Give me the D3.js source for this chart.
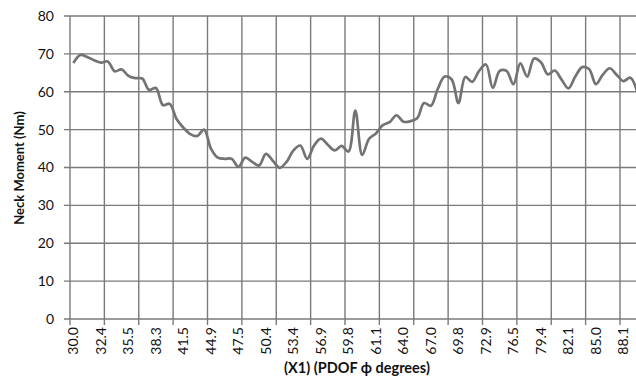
<!DOCTYPE html>
<html lang="en">
<head>
    <meta charset="UTF-8">
    <title>Neck Moment vs PDOF</title>
    <script src="https://cdn.jsdelivr.net/npm/d3@7"></script>
    <style>
        body { margin: 0; background: #fff; }
        svg { display: block; }
    </style>
</head>
<body>
    <svg id="chart" width="636" height="380"></svg>

    <script>
        // labels shown on the category axis (one every 4 categories)
        const tickLabels = ["30.0", "32.4", "35.5", "38.3", "41.5", "44.9", "47.5", "50.4", "53.4", "56.9",
            "59.8", "61.1", "64.0", "67.0", "69.8", "72.9", "76.5", "79.4", "82.1", "85.0", "88.1"];

        // neck moment (Nm), one value per category
        const neckMoment = [
            67.6, 69.7, 69.2, 68.3, 67.7, 68.0, 65.4, 65.9, 64.2, 63.6,
            63.5, 60.5, 61.0, 56.5, 56.8, 52.8, 50.5, 48.8, 48.3, 50.0,
            45.0, 42.6, 42.3, 42.3, 40.2, 42.6, 41.5, 40.5, 43.6, 41.8,
            39.9, 41.5, 44.5, 45.8, 42.3, 45.8, 47.6, 46.0, 44.5, 45.7,
            44.2, 55.0, 43.3, 47.6, 49.0, 51.2, 52.0, 53.8, 52.1, 52.2,
            53.0, 57.0, 56.3, 60.8, 64.0, 63.3, 57.0, 63.9, 62.6, 65.5,
            67.2, 61.0, 65.5, 65.5, 62.0, 67.5, 64.0, 68.8, 67.8, 64.6,
            65.6, 63.2, 60.9, 64.0, 66.5, 66.0, 62.0, 64.5, 66.2, 64.5,
            62.8, 63.7, 60.0
        ];

        const yTicks = [0, 10, 20, 30, 40, 50, 60, 70, 80];

        const plotLeft = 70, plotTop = 16, plotBottom = 319;
        const step = 6.875;
        const labelEvery = 4, gridEvery = 5;

        const svg = d3.select("#chart");
        const idx = d3.range(neckMoment.length);

        const x = d3.scaleBand()
            .domain(idx)
            .range([plotLeft, plotLeft + idx.length * step]);

        const y = d3.scaleLinear()
            .domain([0, 80])
            .range([plotBottom, plotTop]);

        const gridColor = "#7a7a7a";
        const font = "Lato, 'Liberation Sans', sans-serif";

        // horizontal gridlines
        svg.append("g")
            .selectAll("line")
            .data(yTicks)
            .enter()
            .append("line")
            .attr("x1", plotLeft - 6)
            .attr("x2", 636)
            .attr("y1", d => y(d))
            .attr("y2", d => y(d))
            .style("stroke", gridColor)
            .style("stroke-width", 1.4);

        // vertical gridlines at category boundaries
        const gridIdx = idx.filter(i => i % gridEvery === 0);
        svg.append("g")
            .selectAll("line")
            .data(gridIdx)
            .enter()
            .append("line")
            .attr("x1", d => x(d))
            .attr("x2", d => x(d))
            .attr("y1", plotTop)
            .attr("y2", plotBottom + 6)
            .style("stroke", gridColor)
            .style("stroke-width", 1.4);

        // y tick labels
        svg.append("g")
            .selectAll("text")
            .data(yTicks)
            .enter()
            .append("text")
            .attr("x", 54)
            .attr("y", d => y(d))
            .attr("dy", "0.35em")
            .attr("text-anchor", "end")
            .style("font-family", font)
            .style("font-size", "14px")
            .style("fill", "#111")
            .text(d => d);

        // x tick labels, rotated
        svg.append("g")
            .selectAll("text")
            .data(tickLabels)
            .enter()
            .append("text")
            .attr("transform", (d, i) => {
                const cx = x(i * labelEvery) + x.bandwidth() / 2;
                return `translate(${cx},${plotBottom + 8}) rotate(-90)`;
            })
            .attr("dy", "0.35em")
            .attr("text-anchor", "end")
            .style("font-family", font)
            .style("font-size", "14px")
            .style("fill", "#111")
            .text(d => d);

        // the data line, smoothed
        const line = d3.line()
            .x((d, i) => x(i) + x.bandwidth() / 2)
            .y(d => y(d))
            .curve(d3.curveCatmullRom.alpha(0.5));

        svg.append("path")
            .datum(neckMoment)
            .attr("d", line)
            .style("fill", "none")
            .style("stroke", "#737373")
            .style("stroke-width", 2.7)
            .style("stroke-linejoin", "round");

        // axis titles
        svg.append("text")
            .attr("transform", "translate(24,168) rotate(-90)")
            .attr("text-anchor", "middle")
            .style("font-family", font)
            .style("font-size", "13px")
            .style("font-weight", "bold")
            .style("fill", "#111")
            .text("Neck Moment (Nm)");

        svg.append("text")
            .attr("x", 357)
            .attr("y", 373)
            .attr("text-anchor", "middle")
            .style("font-family", font)
            .style("font-size", "14.5px")
            .style("font-weight", "bold")
            .style("fill", "#111")
            .text("(X1) (PDOF ϕ degrees)");
    </script>
</body>
</html>
